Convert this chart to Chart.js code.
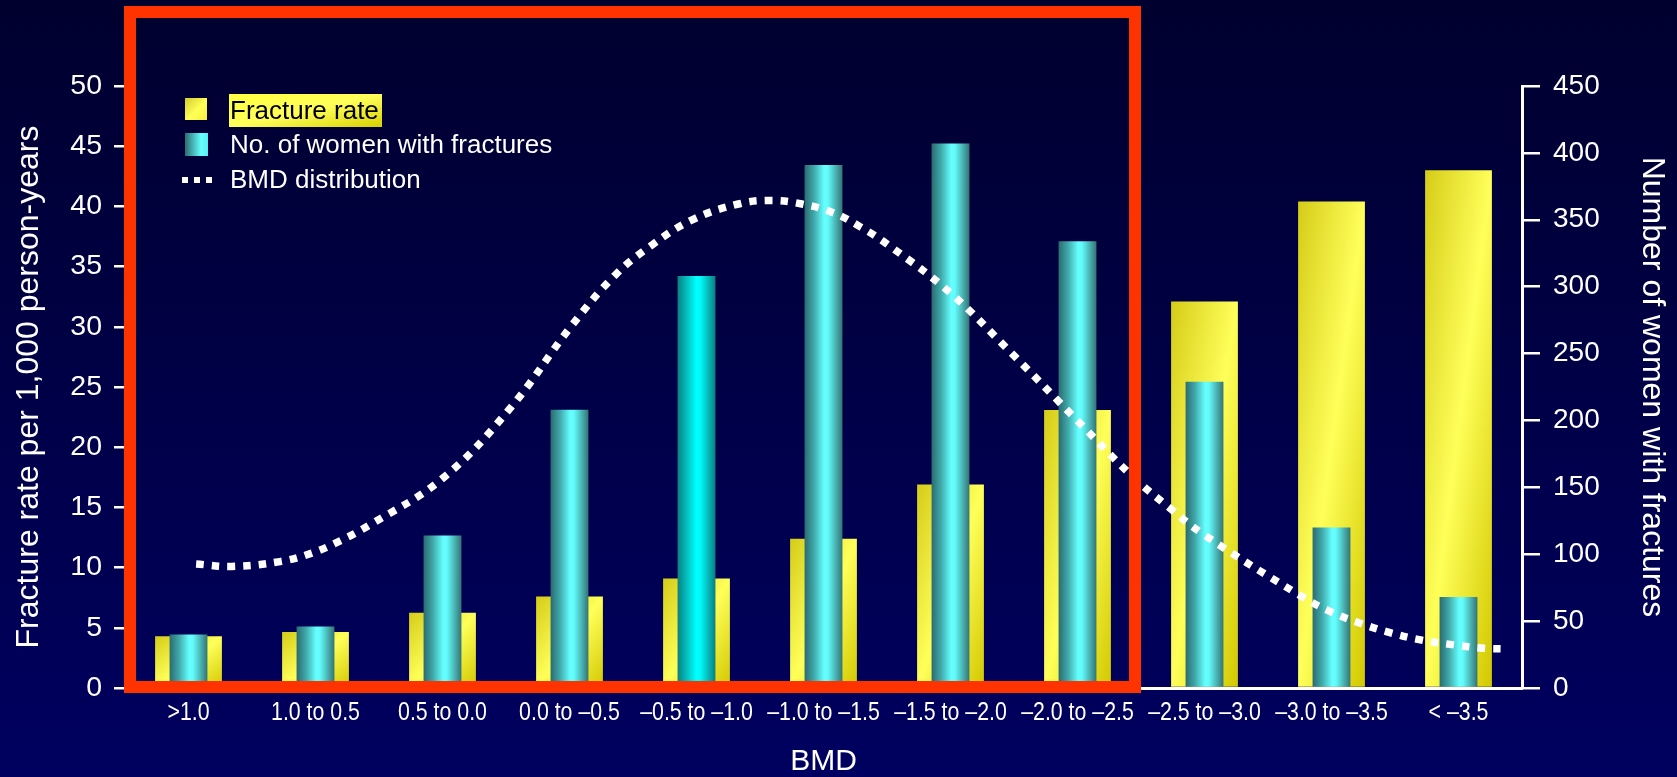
<!DOCTYPE html>
<html>
<head>
<meta charset="utf-8">
<title>Fracture rate by BMD</title>
<script src="https://cdn.jsdelivr.net/npm/chart.js@4.4.1/dist/chart.umd.min.js"></script>
<style>
  html, body { margin: 0; padding: 0; background: #000040; overflow: hidden; }
  canvas { display: block; }
</style>
</head>
<body>
<canvas id="chart" width="1677" height="777"></canvas>
<script>
// BMD T-score bands on the category axis
const categories = ['>1.0', '1.0 to 0.5', '0.5 to 0.0', '0.0 to \u20130.5', '\u20130.5 to \u20131.0',
  '\u20131.0 to \u20131.5', '\u20131.5 to \u20132.0', '\u20132.0 to \u20132.5', '\u20132.5 to \u20133.0',
  '\u20133.0 to \u20133.5', '< \u20133.5'];

// Fracture rate per 1,000 person-years (left axis)
const fractureRate = [4.3, 4.65, 6.25, 7.6, 9.1, 12.4, 16.9, 23.1, 32.1, 40.4, 43.0];

// Number of women with fractures (right axis)
const womenWithFractures = [40, 46, 114, 208, 308, 391, 407, 334, 229, 120, 68];

// BMD distribution curve: position along the band axis (band index) and height in left-axis units
const bmdPosition = [0.06, 0.34, 0.72, 0.97, 1.19, 1.42, 2.0, 2.53, 3.01, 3.36, 3.65, 3.97, 4.33, 4.58,
  4.83, 5.07, 5.29, 5.51, 6.0, 6.5, 7.0, 7.42, 7.72, 8.0, 8.75, 8.98, 9.22, 9.46, 9.70, 9.95, 10.20, 10.35];
const bmdDistribution = [10.3, 10.1, 10.5, 11.2, 12.2, 13.5, 17.4, 23.2, 30.0, 34.3, 36.8, 38.9, 40.2, 40.5,
  40.2, 39.5, 38.3, 36.8, 32.8, 27.6, 22.2, 17.7, 15.0, 12.7, 7.7, 6.4, 5.4, 4.6, 4.0, 3.6, 3.3, 3.25];

// Tick values for both value axes
const rateTicks = [0, 5, 10, 15, 20, 25, 30, 35, 40, 45, 50];
const countTicks = [0, 50, 100, 150, 200, 250, 300, 350, 400, 450];

const SANS = '"Liberation Sans", Arial, Helvetica, sans-serif';
const RATE_BAR = 0.526;
const COUNT_BAR = 0.298;

// Yellow fill: shaded along the bar's own diagonal
const yellowStops = [[0, '#d5cc18'], [0.5, '#ffff5a'], [1, '#d2c800']];
// Cyan fill: cylinder-like horizontal shading
const cyanStops = [[0, '#2b6b70'], [0.25, '#40a9ab'], [0.52, '#66ffff'], [0.62, '#62fafa'], [1, '#347474']];
const cyanBrightStops = [[0, '#0a8080'], [0.5, '#00ffff'], [0.6, '#00fafa'], [1, '#0a7f80']];

function addStops(g, stops) { stops.forEach(s => g.addColorStop(s[0], s[1])); return g; }

function diagonalGradient(c, L, T, w, h, stops) {
  const k = 2 * w * h / (w * w + h * h);
  return addStops(c.createLinearGradient(L, T, L + h * k, T + w * k), stops);
}

function barBox(ctx, pct, axisId) {
  const chart = ctx.chart;
  const xs = chart.scales.x, ys = chart.scales[axisId];
  if (!xs || !ys || ctx.type !== 'data' || !isFinite(xs.width) || xs.width <= 0) return null;
  const cat = xs.width / categories.length;
  const w = cat * pct;
  const cx = xs.getPixelForValue(ctx.dataIndex);
  const top = ys.getPixelForValue(ctx.raw);
  const bottom = ys.getPixelForValue(0);
  return { L: cx - w / 2, T: top, w: w, h: Math.max(1, bottom - top) };
}

function yellowFill(ctx) {
  const b = barBox(ctx, RATE_BAR, 'y');
  if (!b) return '#f0ec30';
  return diagonalGradient(ctx.chart.ctx, b.L, b.T, b.w, b.h, yellowStops);
}

function cyanFill(ctx) {
  const b = barBox(ctx, COUNT_BAR, 'y2');
  if (!b) return '#55eeee';
  const stops = ctx.dataIndex === 4 ? cyanBrightStops : cyanStops;
  return addStops(ctx.chart.ctx.createLinearGradient(b.L, 0, b.L + b.w, 0), stops);
}

// Slide background
const backdrop = {
  id: 'backdrop',
  beforeDraw(chart) {
    const c = chart.ctx;
    const g = c.createLinearGradient(0, 0, 0, chart.height);
    g.addColorStop(0, '#00002e');
    g.addColorStop(1, '#000060');
    c.save();
    c.fillStyle = g;
    c.fillRect(0, 0, chart.width, chart.height);
    c.restore();
  }
};

// Condensed band labels under the category axis
const bandLabels = {
  id: 'bandLabels',
  afterDraw(chart) {
    const c = chart.ctx;
    const xs = chart.scales.x;
    const labels = xs.getLabels();
    c.save();
    c.font = '26px ' + SANS;
    c.fillStyle = '#ffffff';
    c.textAlign = 'center';
    c.textBaseline = 'alphabetic';
    labels.forEach((lab, i) => {
      c.save();
      c.translate(xs.getPixelForValue(i), xs.top + 32);
      c.scale(0.82, 1);
      c.fillText(lab, 0, 0);
      c.restore();
    });
    c.restore();
  }
};

// Legend in the upper left of the plot, plus the red highlight frame
const overlay = {
  id: 'overlay',
  afterDatasetsDraw(chart) {
    const c = chart.ctx;
    const ds = chart.data.datasets;
    c.save();
    // legend swatches
    c.fillStyle = diagonalGradient(c, 185, 98, 22, 22, [[0, '#d4cc30'], [0.55, '#ffff55'], [1, '#f4f040']]);
    c.fillRect(185, 98, 22, 22);
    c.fillStyle = addStops(c.createLinearGradient(185, 0, 208, 0), [[0, '#2b6b70'], [0.7, '#66ffff'], [1, '#55f0f0']]);
    c.fillRect(185, 133, 23, 23);
    c.fillStyle = '#ffffff';
    [182, 194, 206].forEach(x => c.fillRect(x, 177, 6, 6));
    // highlighted first entry
    c.fillStyle = diagonalGradient(c, 229, 94, 153, 33, [[0, '#ffff40'], [0.5, '#ffff5a'], [1, '#d8d000']]);
    c.fillRect(229, 94, 153, 33);
    c.font = '26px ' + SANS;
    c.textBaseline = 'alphabetic';
    c.textAlign = 'left';
    c.fillStyle = '#000000';
    c.fillText(ds[0].label, 230, 118.5);
    c.fillStyle = '#ffffff';
    c.fillText(ds[1].label, 230, 153);
    c.fillText(ds[2].label, 230, 187.5);

    // red frame around the first eight bands
    const xs = chart.scales.x, ys = chart.scales.y;
    const cat = xs.width / categories.length;
    const lw = 12;
    const left = chart.chartArea.left - 1;
    const right = xs.getPixelForValue(7) + cat / 2;
    const top = 6;
    const bottom = ys.getPixelForValue(0) + 5;
    c.strokeStyle = '#ff3300';
    c.lineWidth = lw;
    c.lineJoin = 'miter';
    c.strokeRect(left + lw / 2, top + lw / 2, right - left - lw, bottom - top - lw);
    c.restore();
  }
};

new Chart(document.getElementById('chart'), {
  data: {
    labels: categories,
    datasets: [
      {
        type: 'bar',
        label: 'Fracture rate',
        data: fractureRate,
        xAxisID: 'x',
        yAxisID: 'y',
        grouped: false,
        categoryPercentage: 1,
        barPercentage: RATE_BAR,
        backgroundColor: yellowFill,
        borderWidth: 0,
        order: 2
      },
      {
        type: 'bar',
        label: 'No. of women with fractures',
        data: womenWithFractures,
        xAxisID: 'x',
        yAxisID: 'y2',
        grouped: false,
        categoryPercentage: 1,
        barPercentage: COUNT_BAR,
        backgroundColor: cyanFill,
        borderWidth: 0,
        order: 1
      },
      {
        type: 'line',
        label: 'BMD distribution',
        data: bmdPosition.map((x, i) => ({ x: x, y: bmdDistribution[i] })),
        xAxisID: 'xLine',
        yAxisID: 'y',
        borderColor: '#ffffff',
        borderWidth: 7.5,
        borderDash: [7.5, 8.2],
        borderCapStyle: 'butt',
        pointRadius: 0,
        tension: 0.4,
        fill: false,
        order: 0
      }
    ]
  },
  options: {
    responsive: false,
    animation: false,
    devicePixelRatio: 1,
    layout: { padding: { top: 86, left: 0, right: 0, bottom: 0 } },
    plugins: { legend: { display: false }, tooltip: { enabled: false } },
    scales: {
      x: {
        type: 'category',
        position: 'bottom',
        offset: true,
        grid: { display: false, drawTicks: false },
        border: { display: true, color: '#ffffff', width: 3 },
        ticks: { display: false, autoSkip: false },
        title: {
          display: true,
          text: 'BMD',
          color: '#ffffff',
          font: { family: SANS, size: 30, lineHeight: 1 },
          padding: { top: 0, bottom: 0 }
        },
        afterFit(scale) { scale.height = 89; }
      },
      xLine: {
        type: 'linear',
        position: 'bottom',
        display: false,
        min: -0.5,
        max: 10.5
      },
      y: {
        type: 'linear',
        position: 'left',
        min: 0,
        max: 50,
        afterBuildTicks(scale) { scale.ticks = rateTicks.map(v => ({ value: v })); },
        grid: { drawOnChartArea: false, drawTicks: true, tickLength: 11, color: '#ffffff', lineWidth: 2.5 },
        border: { display: true, color: '#ffffff', width: 3 },
        ticks: { color: '#ffffff', font: { family: SANS, size: 28.5 }, padding: 12 },
        title: {
          display: true,
          text: 'Fracture rate per 1,000 person-years',
          color: '#ffffff',
          font: { family: SANS, size: 32 },
          padding: { top: 10, bottom: 0 }
        },
        afterFit(scale) { scale.width = 125; }
      },
      y2: {
        type: 'linear',
        position: 'right',
        min: 0,
        max: 450,
        afterBuildTicks(scale) { scale.ticks = countTicks.map(v => ({ value: v })); },
        grid: { drawOnChartArea: false, drawTicks: true, tickLength: 18, color: '#ffffff', lineWidth: 2.5 },
        border: { display: true, color: '#ffffff', width: 3 },
        ticks: { color: '#ffffff', font: { family: SANS, size: 28 }, padding: 13 },
        title: {
          display: true,
          text: 'Number of women with fractures',
          color: '#ffffff',
          font: { family: SANS, size: 32 },
          padding: { top: 6, bottom: 0 }
        },
        afterFit(scale) { scale.width = 155; }
      }
    }
  },
  plugins: [backdrop, overlay, bandLabels]
});
</script>
</body>
</html>
